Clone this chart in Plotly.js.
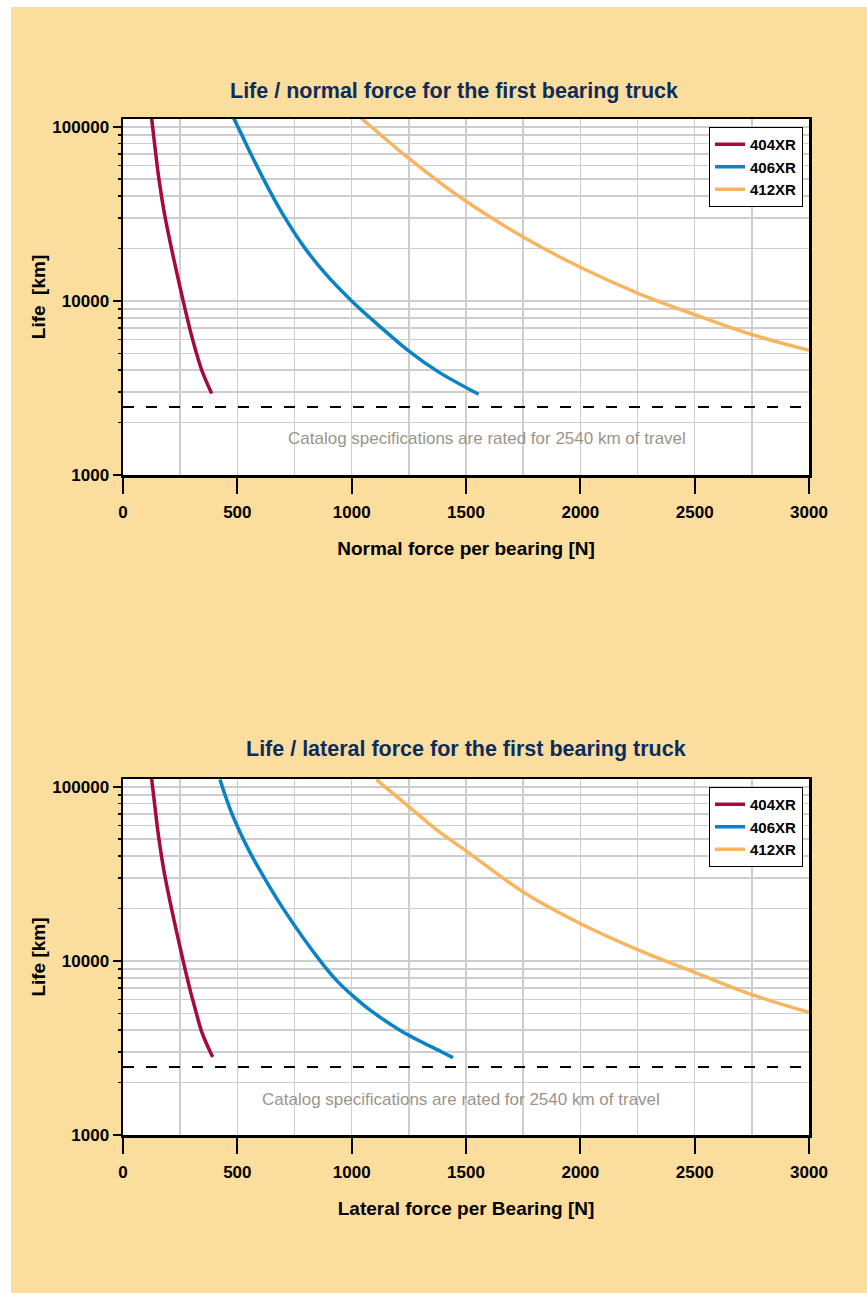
<!DOCTYPE html>
<html>
<head>
<meta charset="utf-8">
<script src="https://cdn.plot.ly/plotly-3.0.1.min.js"></script>
<style>
html,body{margin:0;padding:0;background:#ffffff;}
#chart{width:867px;height:1293px;}
</style>
</head>
<body>
<div id="chart"></div>
<script>
// ---------- data ----------
const seriesNames = ['404XR', '406XR', '412XR'];

// Chart 1: Life vs normal force
const normalForce404 = [125, 137.5, 152.5, 165.5, 181.5, 214.5, 263, 284, 297, 315, 345, 388];
const normalLife404  = [112000, 81300, 55600, 42300, 31600, 19300, 10000, 7670, 6530, 5350, 3980, 2940];
const normalForce406 = [484, 519, 562, 644, 698, 793, 888, 1000, 1109, 1249, 1374, 1555];
const normalLife406  = [112000, 90200, 68700, 42300, 31600, 20300, 14200, 10000, 7410, 5160, 3950, 2910];
const normalForce412 = [1042, 1250, 1408, 1500, 1750, 2000, 2250, 2500, 2750, 3000];
const normalLife412  = [112000, 65800, 45500, 37400, 23300, 15600, 11100, 8340, 6410, 5210];

// Chart 2: Life vs lateral force
const lateralForce404 = [125, 137.5, 152.5, 165.5, 181.5, 214.5, 263, 284, 297, 315, 345, 392];
const lateralLife404  = [112000, 81300, 55600, 42300, 31600, 19300, 10000, 7670, 6530, 5350, 3890, 2810];
const lateralForce406 = [424, 479, 554, 608, 697, 865, 941, 1001, 1081, 1218, 1394, 1443];
const lateralLife406  = [110000, 68700, 42300, 31600, 20300, 9900, 7550, 6370, 5210, 3950, 3000, 2785];
const lateralForce412 = [1108, 1250, 1366, 1500, 1750, 2000, 2250, 2500, 2750, 3000];
const lateralLife412  = [110000, 76900, 57400, 42900, 24900, 16400, 11600, 8590, 6410, 5060];

// rated life reference line
const ratedForce = [0, 3000];
const ratedLife  = [2460, 2460];

// ticks
const xTickVals  = [0, 500, 1000, 1500, 2000, 2500, 3000];
const yTickVals  = [1000, 10000, 100000];
const yTickText  = ['1000', '10000', '100000'];
const yMinorVals = [2000, 3000, 4000, 5000, 6000, 7000, 8000, 9000,
                    20000, 30000, 40000, 50000, 60000, 70000, 80000, 90000];

// texts
const titleNormal  = 'Life / normal force for the first bearing truck';
const titleLateral = 'Life / lateral force for the first bearing truck';
const xTitleNormal  = 'Normal force per bearing [N]';
const xTitleLateral = 'Lateral force per Bearing [N]';
const yTitleNormal  = 'Life\u00a0 [km]';
const yTitleLateral = 'Life [km]';
const noteText = 'Catalog specifications are rated for 2540 km of travel';

// ---------- styles ----------
const FONT = 'Liberation Sans, Arial, Helvetica, sans-serif';
const colors = ['#a50a3d', '#0a82c6', '#f8b55f'];
const GRID = '#cdcdcd';
const W = 867, H = 1293;

function line(x, y, i, xa, ya, lg) {
  return {
    x: x, y: y, xaxis: xa, yaxis: ya, legend: lg,
    type: 'scatter', mode: 'lines', name: seriesNames[i],
    line: {color: colors[i], width: 3.5, shape: 'spline', smoothing: 1},
    hoverinfo: 'x+y+name'
  };
}
function rated(xa, ya) {
  return {
    x: ratedForce, y: ratedLife, xaxis: xa, yaxis: ya,
    type: 'scatter', mode: 'lines', showlegend: false,
    line: {color: '#000000', width: 2, dash: '11px,12px'}, hoverinfo: 'skip'
  };
}

const traces = [
  rated('x', 'y'),
  line(normalForce404, normalLife404, 0, 'x', 'y', 'legend'),
  line(normalForce406, normalLife406, 1, 'x', 'y', 'legend'),
  line(normalForce412, normalLife412, 2, 'x', 'y', 'legend'),
  rated('x2', 'y2'),
  line(lateralForce404, lateralLife404, 0, 'x2', 'y2', 'legend2'),
  line(lateralForce406, lateralLife406, 1, 'x2', 'y2', 'legend2'),
  line(lateralForce412, lateralLife412, 2, 'x2', 'y2', 'legend2')
];

function xAxis(anchor, title) {
  return {
    anchor: anchor, domain: [123 / W, 809 / W], range: [0, 3000],
    tickmode: 'array', tickvals: xTickVals,
    ticks: 'outside', ticklen: 16, tickwidth: 2, tickcolor: '#000',
    ticklabelstandoff: 4,
    tickfont: {family: FONT, size: 17, color: '#000', weight: 'bold'},
    showline: true, linecolor: '#000', linewidth: 2.5, mirror: true,
    showgrid: true, gridcolor: GRID, gridwidth: 1.5, zeroline: false,
    minor: {dtick: 250, tick0: 0, showgrid: true, gridcolor: GRID, gridwidth: 1.5, ticks: ''},
    title: {text: title, standoff: 21, font: {family: FONT, size: 19, color: '#000', weight: 'bold'}}
  };
}
function yAxis(anchor, domain, title) {
  return {
    anchor: anchor, domain: domain, type: 'log', range: [3, 5.045],
    tickmode: 'array', tickvals: yTickVals, ticktext: yTickText,
    ticks: 'outside', ticklen: 8, tickwidth: 2, tickcolor: '#000',
    tickfont: {family: FONT, size: 17, color: '#000', weight: 'bold'},
    showline: true, linecolor: '#000', linewidth: 2.5, mirror: true,
    showgrid: true, gridcolor: GRID, gridwidth: 2, zeroline: false,
    minor: {tickmode: 'array', tickvals: yMinorVals, showgrid: true, gridcolor: GRID, gridwidth: 1.5,
            ticks: 'outside', ticklen: 3, tickcolor: '#000', tickwidth: 1.5},
    title: {text: title, standoff: 2, font: {family: FONT, size: 19, color: '#000', weight: 'bold'}}
  };
}
function legendDef(topPx) {
  return {
    x: 803 / W, xanchor: 'right', y: 1 - topPx / H, yanchor: 'top',
    bgcolor: '#ffffff', bordercolor: '#000', borderwidth: 1,
    font: {family: FONT, size: 15, color: '#000', weight: 'bold'},
    itemwidth: 30, tracegroupgap: 0
  };
}

const layout = {
  width: W, height: H,
  margin: {l: 0, r: 0, t: 0, b: 0},
  paper_bgcolor: '#fbdd9e', plot_bgcolor: '#ffffff',
  font: {family: FONT},
  title: {
    text: titleNormal, x: 454 / W, xanchor: 'center', y: 1 - 90 / H, yanchor: 'middle',
    font: {family: FONT, size: 21.5, color: '#0c2c5c', weight: 'bold'}
  },
  xaxis: xAxis('y', xTitleNormal),
  yaxis: yAxis('x', [1 - 475 / H, 1 - 119 / H], yTitleNormal),
  xaxis2: xAxis('y2', xTitleLateral),
  yaxis2: yAxis('x2', [1 - 1135 / H, 1 - 779 / H], yTitleLateral),
  legend: legendDef(127),
  legend2: legendDef(787),
  shapes: [
    {type: 'rect', xref: 'paper', yref: 'paper', x0: 0, x1: 1, y0: 1 - 7 / H, y1: 1,
     fillcolor: '#ffffff', line: {width: 0}, layer: 'below'},
    {type: 'rect', xref: 'paper', yref: 'paper', x0: 0, x1: 11 / W, y0: 0, y1: 1,
     fillcolor: '#ffffff', line: {width: 0}, layer: 'below'}
  ],
  annotations: [
    {text: titleLateral, xref: 'paper', yref: 'paper', x: 466 / W, y: 1 - 749 / H,
     xanchor: 'center', yanchor: 'middle', showarrow: false,
     font: {family: FONT, size: 21.5, color: '#0c2c5c', weight: 'bold'}},
    {text: noteText, xref: 'paper', yref: 'paper', x: 487 / W, y: 1 - 439 / H,
     xanchor: 'center', yanchor: 'middle', showarrow: false,
     font: {family: FONT, size: 17, color: '#9a948b'}},
    {text: noteText, xref: 'paper', yref: 'paper', x: 461 / W, y: 1 - 1099 / H,
     xanchor: 'center', yanchor: 'middle', showarrow: false,
     font: {family: FONT, size: 17, color: '#9a948b'}}
  ]
};

Plotly.newPlot('chart', traces, layout, {displayModeBar: false, staticPlot: true});
</script>
</body>
</html>
